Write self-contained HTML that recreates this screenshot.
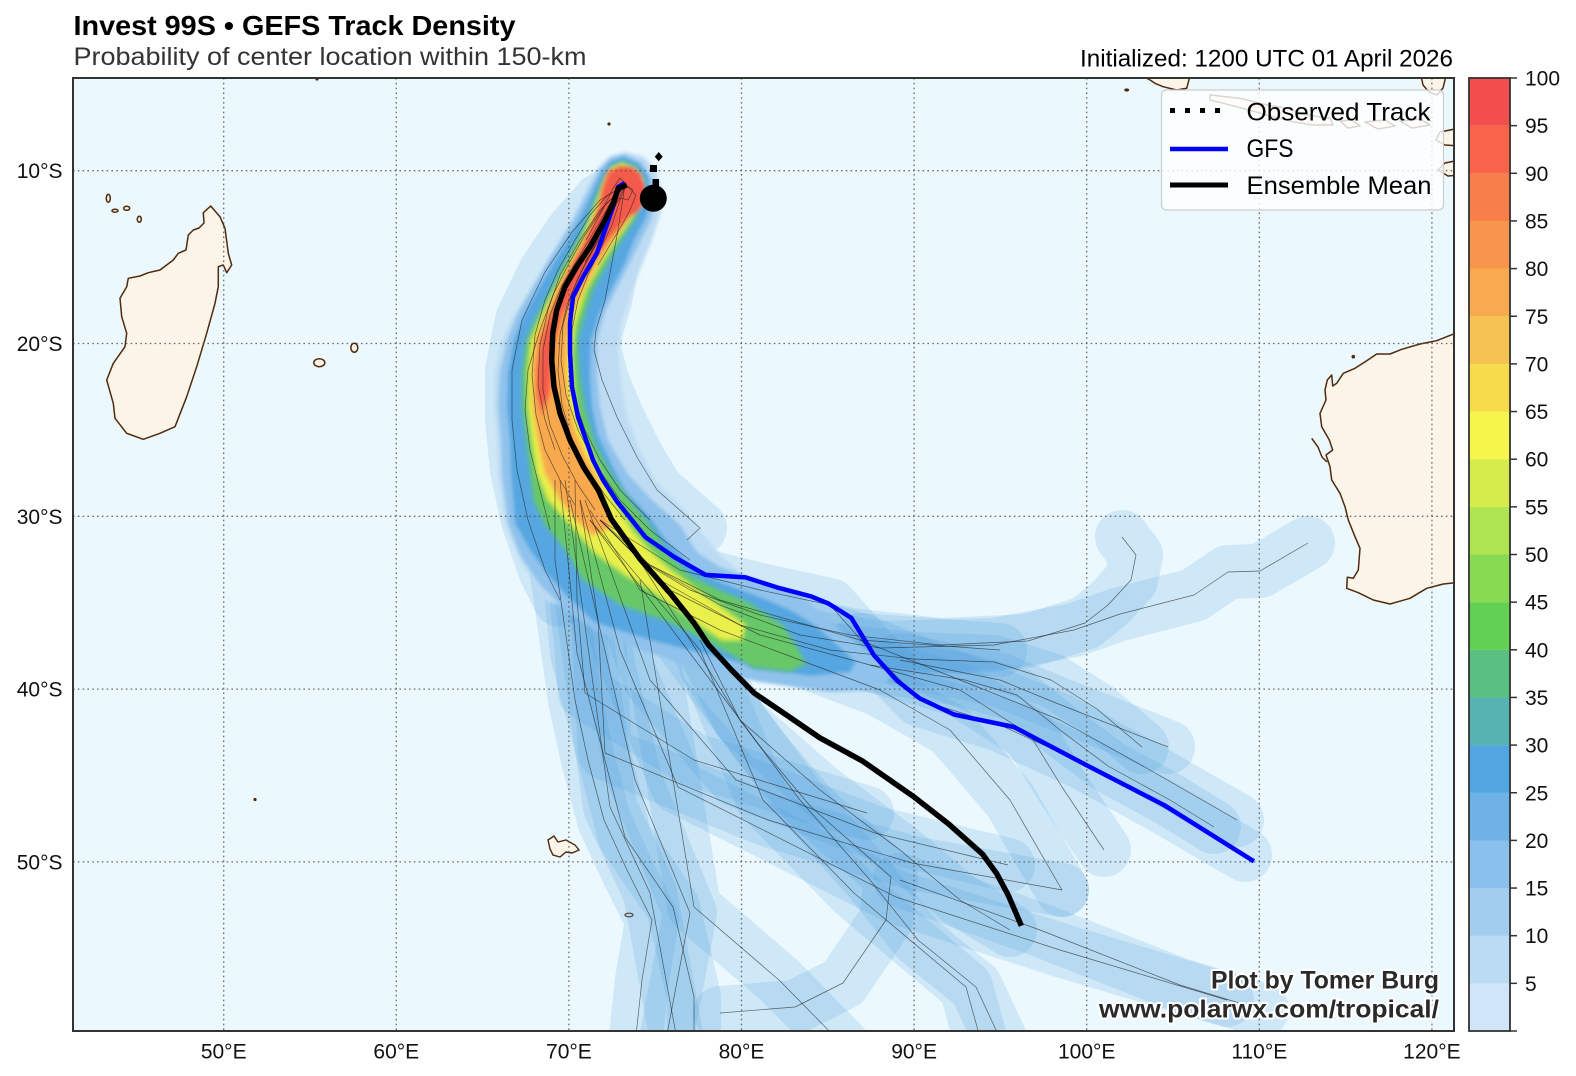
<!DOCTYPE html>
<html>
<head>
<meta charset="utf-8">
<style>
html,body{margin:0;padding:0;background:#fff;}
svg{display:block;}
text{font-family:"Liberation Sans","DejaVu Sans",sans-serif;}
</style>
</head>
<body>
<svg width="1576" height="1076" viewBox="0 0 1576 1076" xmlns="http://www.w3.org/2000/svg">
<defs>
<clipPath id="mc"><rect x="73" y="78" width="1381" height="953"/></clipPath>
<filter id="bl" x="-10%" y="-10%" width="120%" height="120%"><feGaussianBlur stdDeviation="1.6"/></filter>
</defs>
<rect width="1576" height="1076" fill="#fff"/>

<g clip-path="url(#mc)">
<rect x="73" y="78" width="1381" height="953" fill="#ebf8fd"/>

<!-- Land -->
<g fill="#fbf4e9" stroke="#502a0c" stroke-width="1.5" stroke-linejoin="round">
<path d="M210.7,206 L203.3,212.7 L204,223 L199,228 L193.3,230 L188.3,235 L186,250 L178.3,253.3 L173.3,260 L160,270 L148.3,272.7 L140,276 L128.3,278.3 L126.7,286.7 L120,298.3 L121.7,316.7 L126.7,333.3 L125,346.7 L113.3,363.3 L106.7,380 L113.3,403.3 L115,418.3 L126.7,433.3 L143.3,439.3 L160,433.3 L175,426.7 L186.7,396.7 L196.7,366.7 L206.7,333.3 L215,303.3 L218.3,286.7 L218.3,266.7 L223.3,265 L226.7,272.7 L231.7,265 L228.3,253.3 L225,228.3 L220,216.7 Z"/>
<ellipse cx="108.3" cy="198.3" rx="2" ry="4"/>
<ellipse cx="115" cy="210.7" rx="3" ry="1.5"/>
<ellipse cx="126.7" cy="208.3" rx="3" ry="2"/>
<ellipse cx="139.3" cy="219.3" rx="2" ry="3"/>
<ellipse cx="319.3" cy="362.7" rx="5.5" ry="4"/>
<ellipse cx="354.3" cy="347.7" rx="3.5" ry="4.5"/>
<path d="M1462,331 L1456.7,332.7 L1436.7,340.7 L1420,344 L1401.7,349.3 L1390,354 L1376.7,354 L1366.7,360.7 L1355,368.3 L1343.3,373.3 L1336.7,383.3 L1332.7,386 L1331.7,375 L1327.3,380 L1325,390 L1326,400 L1320,413.3 L1321.7,426.7 L1329.3,440 L1332.7,450 L1326,455 L1330,466.7 L1331.7,480 L1340,493.3 L1345,506.7 L1348.3,520 L1355,536.7 L1360,548.3 L1358.3,570 L1353.3,578.3 L1347.3,577.3 L1346.7,588.3 L1358.3,592.7 L1373.3,600 L1390,604 L1410,598.3 L1426.7,588.3 L1443.3,584 L1462,582 Z"/>
<path d="M1143,76 L1150,80 L1155,83.3 L1163,86.7 L1176.7,90 L1186.7,88.3 L1190,76 Z"/>
<path d="M1421,76 L1423,85 L1429,92 L1437,95 L1443,88 L1446,76 Z"/>
<path d="M1210,95 L1240,98.3 L1266.7,105 L1286.7,108.3 L1306.7,115 L1330,118.3 L1333,125 L1313,125 L1293,121.7 L1266.7,115 L1243,108.3 L1223,103.3 L1210,100 Z"/>
<path d="M1340,121 L1352,120 L1360,126 L1348,128 Z"/>
<path d="M1365,122 L1385,120 L1395,126 L1378,129 Z"/>
<path d="M1400,121 L1420,119 L1430,125 L1412,128 Z"/>
<path d="M1460,128 L1440,132 L1436,140 L1445,145 L1460,146 Z"/>
<path d="M1460,160 L1445,163 L1438,170 L1448,176 L1460,175 Z"/>
</g>
<g fill="#502a0c">
<ellipse cx="1126.7" cy="90" rx="2.5" ry="1.6"/>
<circle cx="1353.3" cy="356.7" r="1.8"/>
<circle cx="317" cy="79" r="1.6"/>
<circle cx="609" cy="124" r="1.6"/>
<circle cx="255" cy="799.5" r="1.6"/>
</g>
<path d="M1311.7,438.3 L1318,447 L1322,457 L1327,462" fill="none" stroke="#502a0c" stroke-width="1.5"/>
<path d="M548,840 L554,836 L558,842 L566,840 L575,845 L579,850 L572,853 L566,852 L560,857 L553,855 L550,849 Z" fill="#fbf4e9" stroke="#502a0c" stroke-width="1.4"/>
<ellipse cx="629" cy="915" rx="4" ry="1.8" fill="#fbf4e9" stroke="#502a0c" stroke-width="1.2"/>

<!-- Member swaths -->
<g fill="none" stroke="#3c96dc" stroke-opacity="0.16" stroke-width="54" stroke-linecap="round" stroke-linejoin="round">
<path d="M600,520 L640,560 L690,590 L760,615 L850,635 L940,645 L1028,641 L1085,623 L1108,605 L1131,580 L1136,555 L1122,537"/>
<path d="M600,520 L650,565 L720,605 L800,635 L880,648 L994,645 L1074,630 L1120,614 L1194,595 L1228,572 L1260,571 L1308,543"/>
<path d="M600,520 L660,580 L740,625 L830,650 L914,659 L994,662 L1051,680 L1097,709 L1142,747"/>
<path d="M600,520 L670,590 L760,635 L870,665 L965,680 L1017,695 L1060,730 L1108,766 L1170,800 L1214,827"/>
<path d="M600,520 L680,570 L760,590 L830,605 L870,650 L920,700 L1000,725 L1083,763 L1163,807 L1245,855"/>
<path d="M590,510 L640,590 L720,630 L800,660 L880,690 L950,730 L1010,800 L1062,890"/>
<path d="M585,500 L614,580 L650,680 L736,780 L875,833 L1008,865"/>
<path d="M575,480 L577,600 L585,693 L694,760 L867,813"/>
<path d="M580,500 L598,620 L605,753 L768,820 L912,863 L1062,890"/>
<path d="M580,500 L620,650 L678,787 L896,897 L1060,950 L1227,1000"/>
<path d="M590,520 L680,640 L763,750 L811,807 L891,877 L886,920 L843,983 L795,1007 L720,1013"/>
<path d="M590,520 L700,650 L763,800 L854,893 L966,987 L982,1045"/>
<path d="M555,480 L555,560 L568,650 L575,700 L588,760 L604,820 L627,870 L652,920 L642,980 L635,1045"/>
<path d="M560,480 L577,653 L625,837 L673,907 L694,997 L694,1045"/>
<path d="M565,480 L598,720 L610,807 L650,893 L678,1045"/>
<path d="M570,500 L635,780 L690,913 L665,1045"/>
<path d="M640,580 L694,907 L779,980 L843,1045"/>
<path d="M700,640 L740,720 L800,800 L870,880 L918,940 L976,987 L1003,1045"/>
<path d="M900,880 L1040,930 L1180,985 L1262,1010"/>
<path d="M870,665 L960,690 L1030,735 L1062,787 L1104,850"/>
<path d="M860,640 L960,680 L1060,720 L1150,770 L1237,820"/>
<path d="M900,660 L1000,680 L1056,703 L1168,747"/>
<path d="M625,185 L600,200 L572,232 L545,272 L522,320 L512,370 L512,420 L517,470 L528,520 L545,570 L560,600"/>
<path d="M625,185 L618,230 L605,300 L596,330 L594,350 L602,380 L617,417 L637,457 L657,490 L700,528"/>
<path d="M640,560 L720,600 L860,640 L1000,650"/>
<path d="M620,530 L690,640 L740,720 L820,790 L900,850 L960,900 L1010,930"/>
</g>

<!-- Core density plume -->
<g filter="url(#bl)">
<path fill="#bddcf3" d="M625,152 L610,156 L598,168 L588,185 L578,205 L565,235 L548,262 L530,290 L512,318 L500,345 L494,375 L494,407 L497,440 L498,473 L505,523 L520,560 L545,600 L600,620 L680,620 L760,600 L745,575 L720,555 L700,530 L680,505 L655,480 L640,450 L628,420 L622,390 L618,350 L622,320 L632,290 L643,262 L652,240 L660,215 L662,190 L655,168 L642,156 Z"/>
<path fill="#8fc2ec" d="M624,154 L610,158 L599,170 L588,192 L576,215 L562,238 L546,264 L531,290 L517,315 L507,340 L500,372 L498,407 L501,440 L502,473 L508,523 L520,555 L540,585 L565,610 L594,630 L640,650 L700,668 L760,682 L830,692 L878,690 L892,676 L880,660 L860,645 L834,625 L800,595 L750,578 L720,567 L697,552 L680,525 L650,498 L627,473 L608,440 L600,407 L597,375 L597,340 L605,312 L616,290 L630,263 L641,240 L651,220 L655,200 L652,180 L642,162 Z"/>
<path fill="#57a7e1" d="M624,157 L611,161 L601,173 L591,195 L583,212 L569,238 L553,264 L538,290 L524,315 L514,340 L508,372 L507,407 L510,440 L511,473 L515,523 L530,550 L548,575 L566,595 L594,622 L650,640 L710,655 L760,668 L810,676 L850,672 L856,662 L835,643 L815,625 L790,610 L760,597 L720,582 L690,565 L666,540 L648,515 L625,490 L612,465 L598,435 L592,407 L590,375 L591,340 L600,312 L611,290 L625,263 L634,240 L647,215 L651,195 L648,175 L638,163 Z"/>
<path fill="#68c867" stroke="#58b4aa" stroke-width="3" d="M623,161 L612,165 L604,175 L596,195 L590,212 L577,240 L563,265 L550,290 L537,315 L526,340 L522,372 L522,407 L526,440 L530,473 L533,500 L545,525 L565,550 L583,580 L620,605 L668,622 L700,638 L726,652 L754,668 L790,672 L806,664 L798,648 L783,625 L748,602 L720,590 L690,575 L668,552 L650,525 L630,500 L612,475 L596,445 L585,407 L580,375 L578,340 L585,315 L593,290 L607,265 L622,240 L635,220 L644,200 L645,180 L636,166 Z"/>
<path fill="#e9ef4c" stroke="#b4e150" stroke-width="3" d="M622,164 L612,168 L606,178 L598,200 L592,215 L582,240 L568,265 L555,290 L542,315 L531,340 L528,372 L528,407 L532,440 L537,473 L548,500 L568,522 L594,552 L625,575 L651,590 L697,623 L722,640 L742,640 L745,625 L718,605 L697,590 L668,568 L651,552 L632,530 L620,510 L603,480 L590,450 L578,420 L574,390 L572,355 L575,325 L586,290 L600,265 L616,240 L630,220 L641,200 L642,180 L634,169 Z"/>
<path fill="#f8a84e" stroke="#f6c750" stroke-width="3" d="M621,167 L612,171 L606,182 L600,205 L593,222 L585,240 L571,265 L557,290 L545,315 L535,340 L532,372 L533,407 L538,440 L545,473 L560,500 L578,522 L592,535 L610,528 L606,505 L598,480 L585,455 L575,430 L568,400 L566,370 L567,340 L572,315 L583,290 L597,265 L613,240 L627,220 L639,200 L640,182 L632,170 Z"/>
<path fill="#f45a4b" stroke="#f67f49" stroke-width="3" d="M620,167 L609,172 L603,188 L599,207 L592,225 L583,245 L570,268 L560,290 L550,315 L541,340 L537,370 L537,395 L542,412 L549,395 L552,365 L555,340 L562,315 L575,290 L591,265 L608,240 L624,222 L636,207 L642,190 L640,175 L631,168 Z"/>
<ellipse cx="625" cy="192" rx="20" ry="25" fill="#f45a4b"/>
</g>

<!-- Gridlines -->
<g stroke="#555" stroke-opacity="0.85" stroke-width="1.3" stroke-dasharray="1.6 3.2" fill="none">
<line x1="223.7" y1="78" x2="223.7" y2="1031"/>
<line x1="396.3" y1="78" x2="396.3" y2="1031"/>
<line x1="568.9" y1="78" x2="568.9" y2="1031"/>
<line x1="741.5" y1="78" x2="741.5" y2="1031"/>
<line x1="914.1" y1="78" x2="914.1" y2="1031"/>
<line x1="1086.7" y1="78" x2="1086.7" y2="1031"/>
<line x1="1259.3" y1="78" x2="1259.3" y2="1031"/>
<line x1="1431.9" y1="78" x2="1431.9" y2="1031"/>
<line x1="73" y1="170.7" x2="1454" y2="170.7"/>
<line x1="73" y1="343.5" x2="1454" y2="343.5"/>
<line x1="73" y1="516.3" x2="1454" y2="516.3"/>
<line x1="73" y1="689.1" x2="1454" y2="689.1"/>
<line x1="73" y1="861.9" x2="1454" y2="861.9"/>
</g>

<!-- Thin member lines -->
<g fill="none" stroke="#1a1a1a" stroke-opacity="0.65" stroke-width="0.7" stroke-linejoin="round">
<path d="M600,520 L640,560 L690,590 L760,615 L850,635 L940,645 L1028,641 L1085,623 L1108,605 L1131,580 L1136,555 L1122,537"/>
<path d="M600,520 L650,565 L720,605 L800,635 L880,648 L994,645 L1074,630 L1120,614 L1194,595 L1228,572 L1260,571 L1308,543"/>
<path d="M600,520 L660,580 L740,625 L830,650 L914,659 L994,662 L1051,680 L1097,709 L1142,747"/>
<path d="M600,520 L670,590 L760,635 L870,665 L965,680 L1017,695 L1060,730 L1108,766 L1170,800 L1214,827"/>
<path d="M600,520 L680,570 L760,590 L830,605 L870,650 L920,700 L1000,725 L1083,763 L1163,807 L1245,855"/>
<path d="M590,510 L640,590 L720,630 L800,660 L880,690 L950,730 L1010,800 L1062,890"/>
<path d="M585,500 L614,580 L650,680 L736,780 L875,833 L1008,865"/>
<path d="M575,480 L577,600 L585,693 L694,760 L867,813"/>
<path d="M580,500 L598,620 L605,753 L768,820 L912,863 L1062,890"/>
<path d="M580,500 L620,650 L678,787 L896,897 L1060,950 L1227,1000"/>
<path d="M590,520 L680,640 L763,750 L811,807 L891,877 L886,920 L843,983 L795,1007 L720,1013"/>
<path d="M590,520 L700,650 L763,800 L854,893 L966,987 L982,1045"/>
<path d="M555,480 L555,560 L568,650 L575,700 L588,760 L604,820 L627,870 L652,920 L642,980 L635,1045"/>
<path d="M560,480 L577,653 L625,837 L673,907 L694,997 L694,1045"/>
<path d="M565,480 L598,720 L610,807 L650,893 L678,1045"/>
<path d="M570,500 L635,780 L690,913 L665,1045"/>
<path d="M640,580 L694,907 L779,980 L843,1045"/>
<path d="M700,640 L740,720 L800,800 L870,880 L918,940 L976,987 L1003,1045"/>
<path d="M900,880 L1040,930 L1180,985 L1262,1010"/>
<path d="M870,665 L960,690 L1030,735 L1062,787 L1104,850"/>
<path d="M860,640 L960,680 L1060,720 L1150,770 L1237,820"/>
<path d="M900,660 L1000,680 L1056,703 L1168,747"/>
<path d="M625,185 L600,200 L572,232 L545,272 L522,320 L512,370 L512,420 L517,470 L528,520 L545,570 L560,600"/>
<path d="M625,185 L618,230 L605,300 L596,330 L594,350 L602,380 L617,417 L637,457 L657,490 L700,528 L687,540"/>
<path d="M640,560 L720,600 L860,640 L1000,650"/>
<path d="M620,530 L690,640 L740,720 L820,790 L900,850 L960,900 L1010,930"/>
<path d="M626,185 L612,200 L598,225 L580,255 L562,285 L550,315 L543,350 L543,390 L550,425 L562,455 L578,485 L595,510"/>
<path d="M626,185 L615,205 L604,228 L592,252 L578,278 L567,305 L560,335 L558,370 L562,405 L572,440 L588,470 L605,495 L625,520"/>
<path d="M626,185 L608,195 L590,215 L575,240 L558,270 L545,300 L535,335 L532,375 L536,415 L545,450 L560,480 L575,505"/>
<path d="M626,185 L620,200 L612,225 L600,250 L588,275 L578,300 L572,330 L570,365 L575,400 L585,430 L600,460 L620,490 L650,520"/>
<path d="M626,185 L605,205 L585,235 L568,265 L553,295 L540,330 L528,370 L525,410 L530,450 L540,490 L550,530"/>
<path d="M626,185 L617,195 L609,215 L597,240 L583,268 L571,295 L563,325 L561,360 L566,395 L578,430 L596,465 L620,500 L650,530 L690,560"/>
<path d="M626,185 L633,190 L628,200 L620,198 L612,212 L606,228 L596,245 L585,262"/>
<path d="M626,185 L620,178 L612,190 L605,205 L596,222 L586,240"/>
<path d="M626,185 L636,195 L630,210 L622,225 L610,245 L598,265"/>
<path d="M626,185 L600,210 L580,240 L560,275 L548,310 L540,345 L538,385 L545,420 L555,450"/>
</g>

<!-- GFS -->
<path d="M625,183 L618,187 L613,207 L605,230 L597,253 L583,277 L573,297 L570,323 L570,353 L572,387 L578,417 L593,460 L603,480 L617,501.5 L645.6,537.3 L674.2,557 L705.6,574.9 L745.6,577.4 L777,587.4 L811.2,596.4 L828.4,603.5 L851.2,617.8 L874.1,655.4 L896.9,680.5 L919.7,698.4 L954,714.5 L1014,727 L1085.4,764.6 L1165.3,805.8 L1253.9,861.3" fill="none" stroke="#0000ff" stroke-width="4.5" stroke-linejoin="round"/>
<!-- Ensemble mean -->
<path d="M626.7,185 L618.3,188.3 L613.3,203.3 L603.3,223.3 L590,246.7 L576.7,266.7 L565,286.7 L556.7,310 L552.7,333.3 L551.7,360 L554,386.7 L560,413.3 L570,440 L583.3,466.7 L598.3,490 L611.4,519.4 L639.9,558.8 L671.3,594.6 L694.2,623.2 L708.4,644.7 L731.3,669.8 L754.1,693 L788.4,716.3 L819.8,737.8 L862.6,761.1 L914,796.9 L948.3,823.7 L982.6,854.2 L996.8,873.8 L1008.3,895.3 L1021.4,925.8" fill="none" stroke="#000" stroke-width="5.5" stroke-linejoin="round"/>
<!-- Observed -->
<g fill="#000">
<polygon points="658.7,152 662.7,156.7 658.7,161.2 654.8,156.7"/>
<rect x="650" y="165" width="7" height="7"/>
<rect x="652.5" y="179" width="6.5" height="7"/>
<circle cx="653.3" cy="198.3" r="13.5"/>
</g>
</g>

<!-- Map frame -->
<rect x="73" y="78" width="1381" height="953" fill="none" stroke="#333" stroke-width="2"/>

<!-- Legend -->
<rect x="1161.5" y="90" width="282" height="120" rx="5" ry="5" fill="#fff" fill-opacity="0.8" stroke="#cccccc" stroke-width="1.2"/>
<line x1="1170" y1="110.5" x2="1228" y2="110.5" stroke="#000" stroke-width="5" stroke-dasharray="5 10"/>
<line x1="1170" y1="149" x2="1228" y2="149" stroke="#0000ff" stroke-width="4.5"/>
<line x1="1170" y1="185" x2="1228" y2="185" stroke="#000" stroke-width="5"/>
<text x="1246.5" y="120.5" font-size="25" fill="#000" textLength="184" lengthAdjust="spacingAndGlyphs">Observed Track</text>
<text x="1246.5" y="157" font-size="25" fill="#000" textLength="47" lengthAdjust="spacingAndGlyphs">GFS</text>
<text x="1246.5" y="194" font-size="25" fill="#000" textLength="185" lengthAdjust="spacingAndGlyphs">Ensemble Mean</text>

<!-- Watermark -->
<g font-weight="bold" fill="#2a2a2a" stroke="#ffffff" stroke-width="4" stroke-linejoin="round" style="paint-order:stroke">
<text x="1439" y="988.3" font-size="24.6" text-anchor="end" textLength="228" lengthAdjust="spacingAndGlyphs">Plot by Tomer Burg</text>
<text x="1439" y="1017.3" font-size="25" text-anchor="end" textLength="340" lengthAdjust="spacingAndGlyphs">www.polarwx.com/tropical/</text>
</g>

<!-- Titles -->
<text x="73.5" y="35" font-size="28" font-weight="bold" fill="#000" textLength="442" lengthAdjust="spacingAndGlyphs">Invest 99S • GEFS Track Density</text>
<text x="73.5" y="65" font-size="25" fill="#333" textLength="513" lengthAdjust="spacingAndGlyphs">Probability of center location within 150-km</text>
<text x="1453" y="66.7" font-size="24" fill="#000" text-anchor="end" textLength="373" lengthAdjust="spacingAndGlyphs">Initialized: 1200 UTC 01 April 2026</text>

<!-- Axis labels -->
<g font-size="21" fill="#111" text-anchor="end">
<text x="62.5" y="178.2">10°S</text>
<text x="62.5" y="351">20°S</text>
<text x="62.5" y="523.8">30°S</text>
<text x="62.5" y="696.6">40°S</text>
<text x="62.5" y="869.4">50°S</text>
</g>
<g font-size="21" fill="#111" text-anchor="middle">
<text x="223.7" y="1058.3">50°E</text>
<text x="396.3" y="1058.3">60°E</text>
<text x="568.9" y="1058.3">70°E</text>
<text x="741.5" y="1058.3">80°E</text>
<text x="914.1" y="1058.3">90°E</text>
<text x="1086.7" y="1058.3">100°E</text>
<text x="1259.3" y="1058.3">110°E</text>
<text x="1431.9" y="1058.3">120°E</text>
</g>

<!-- Colorbar -->
<g>
<rect x="1469" y="983.35" width="41" height="47.75" fill="#d0e6f8"/>
<rect x="1469" y="935.7" width="41" height="47.75" fill="#badbf3"/>
<rect x="1469" y="888.05" width="41" height="47.75" fill="#a3cdef"/>
<rect x="1469" y="840.4" width="41" height="47.75" fill="#8ac0ec"/>
<rect x="1469" y="792.75" width="41" height="47.75" fill="#6eb2e6"/>
<rect x="1469" y="745.1" width="41" height="47.75" fill="#51a6e2"/>
<rect x="1469" y="697.45" width="41" height="47.75" fill="#56b3b2"/>
<rect x="1469" y="649.8" width="41" height="47.75" fill="#5ac081"/>
<rect x="1469" y="602.15" width="41" height="47.75" fill="#62d153"/>
<rect x="1469" y="554.5" width="41" height="47.75" fill="#88da52"/>
<rect x="1469" y="506.85" width="41" height="47.75" fill="#ade44f"/>
<rect x="1469" y="459.2" width="41" height="47.75" fill="#d5ec4c"/>
<rect x="1469" y="411.55" width="41" height="47.75" fill="#f6f54b"/>
<rect x="1469" y="363.9" width="41" height="47.75" fill="#f6dc4b"/>
<rect x="1469" y="316.25" width="41" height="47.75" fill="#f5c351"/>
<rect x="1469" y="268.6" width="41" height="47.75" fill="#f8ab4e"/>
<rect x="1469" y="220.95" width="41" height="47.75" fill="#f8954c"/>
<rect x="1469" y="173.3" width="41" height="47.75" fill="#f87e4a"/>
<rect x="1469" y="125.65" width="41" height="47.75" fill="#f9634a"/>
<rect x="1469" y="78" width="41" height="47.65" fill="#f44d4e"/>
<rect x="1469" y="78" width="41" height="953" fill="none" stroke="#333" stroke-width="1.8"/>
<g stroke="#333" stroke-width="1.5">
<line x1="1510" y1="983.35" x2="1517" y2="983.35"/>
<line x1="1510" y1="935.7" x2="1517" y2="935.7"/>
<line x1="1510" y1="888.05" x2="1517" y2="888.05"/>
<line x1="1510" y1="840.4" x2="1517" y2="840.4"/>
<line x1="1510" y1="792.75" x2="1517" y2="792.75"/>
<line x1="1510" y1="745.1" x2="1517" y2="745.1"/>
<line x1="1510" y1="697.45" x2="1517" y2="697.45"/>
<line x1="1510" y1="649.8" x2="1517" y2="649.8"/>
<line x1="1510" y1="602.15" x2="1517" y2="602.15"/>
<line x1="1510" y1="554.5" x2="1517" y2="554.5"/>
<line x1="1510" y1="506.85" x2="1517" y2="506.85"/>
<line x1="1510" y1="459.2" x2="1517" y2="459.2"/>
<line x1="1510" y1="411.55" x2="1517" y2="411.55"/>
<line x1="1510" y1="363.9" x2="1517" y2="363.9"/>
<line x1="1510" y1="316.25" x2="1517" y2="316.25"/>
<line x1="1510" y1="268.6" x2="1517" y2="268.6"/>
<line x1="1510" y1="220.95" x2="1517" y2="220.95"/>
<line x1="1510" y1="173.3" x2="1517" y2="173.3"/>
<line x1="1510" y1="125.65" x2="1517" y2="125.65"/>
<line x1="1510" y1="78" x2="1517" y2="78"/>
<line x1="1510" y1="1031" x2="1517" y2="1031"/>
</g>
<g font-size="21" fill="#111">
<text x="1525" y="990.9">5</text>
<text x="1525" y="943.2">10</text>
<text x="1525" y="895.6">15</text>
<text x="1525" y="847.9">20</text>
<text x="1525" y="800.3">25</text>
<text x="1525" y="752.6">30</text>
<text x="1525" y="705">35</text>
<text x="1525" y="657.3">40</text>
<text x="1525" y="609.7">45</text>
<text x="1525" y="562">50</text>
<text x="1525" y="514.4">55</text>
<text x="1525" y="466.7">60</text>
<text x="1525" y="419.1">65</text>
<text x="1525" y="371.4">70</text>
<text x="1525" y="323.8">75</text>
<text x="1525" y="276.1">80</text>
<text x="1525" y="228.5">85</text>
<text x="1525" y="180.8">90</text>
<text x="1525" y="133.2">95</text>
<text x="1525" y="85.5">100</text>
</g>
</g>
</svg>
</body>
</html>
